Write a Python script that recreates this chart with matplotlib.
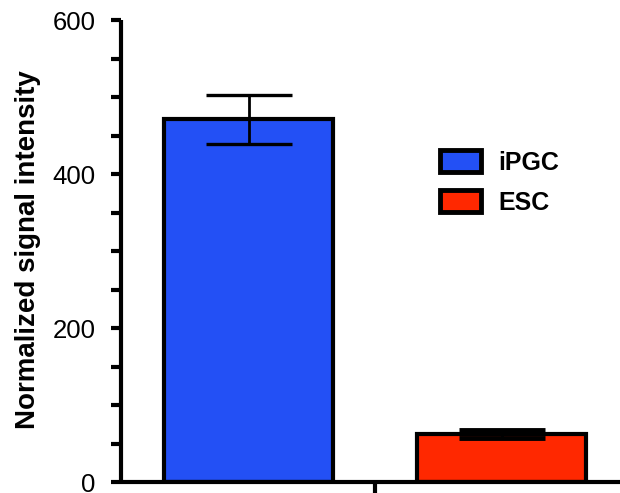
import matplotlib.pyplot as plt
from matplotlib.patches import Patch

plt.rcParams['font.family'] = ['Liberation Sans', 'DejaVu Sans']

groups = ['iPGC', 'ESC']
means = [471, 62]
errors = [32, 5]
colors = ['#2350F5', '#FF2800']
y_ticks = [0, 200, 400, 600]

fig = plt.figure(figsize=(6.2, 4.93), dpi=100)
ax = fig.add_axes([121 / 620, 11 / 493, 499 / 620, 462 / 493])

x = [0, 1]
ax.bar(x, means, width=0.668, color=colors, edgecolor='black', linewidth=3, zorder=2)
# small error bar on ESC renders as a solid block in the original
for xi, m, e, ct in zip(x, means, errors, [2.4, 3.5]):
    ax.errorbar(xi, m, yerr=e, fmt='none', ecolor='black', elinewidth=2,
                capsize=31, capthick=ct, zorder=3)

ax.set_xlim(-0.504, 1.468)
ax.set_ylim(0, 600)
ax.set_yticks(y_ticks)
ax.set_yticks(range(0, 601, 50), minor=True)
ax.set_xticks([0.5])
ax.set_xticklabels([''])

for side in ['top', 'right']:
    ax.spines[side].set_visible(False)
for side in ['left', 'bottom']:
    ax.spines[side].set_linewidth(3)
    ax.spines[side].set_capstyle('butt')

ax.tick_params(axis='y', which='both', length=7.5, width=3, labelsize=18.5, pad=11)
ax.tick_params(axis='x', which='major', length=8, width=3)
ax.set_ylabel('Normalized signal intensity', fontsize=20, fontweight='bold')
ax.yaxis.set_label_coords(-0.160, 0.502)

handles = [Patch(facecolor=c, edgecolor='black', linewidth=3.5) for c in colors]
leg = ax.legend(handles, groups, loc='upper left', bbox_to_anchor=(440 / 620, 1 - 150 / 493),
                bbox_transform=fig.transFigure, frameon=False, borderpad=0,
                borderaxespad=0, handlelength=1.65, handleheight=1.0,
                handletextpad=0.7, labelspacing=0.6,
                prop={'size': 18, 'weight': 'bold'})

plt.savefig('out.png', dpi=100)
